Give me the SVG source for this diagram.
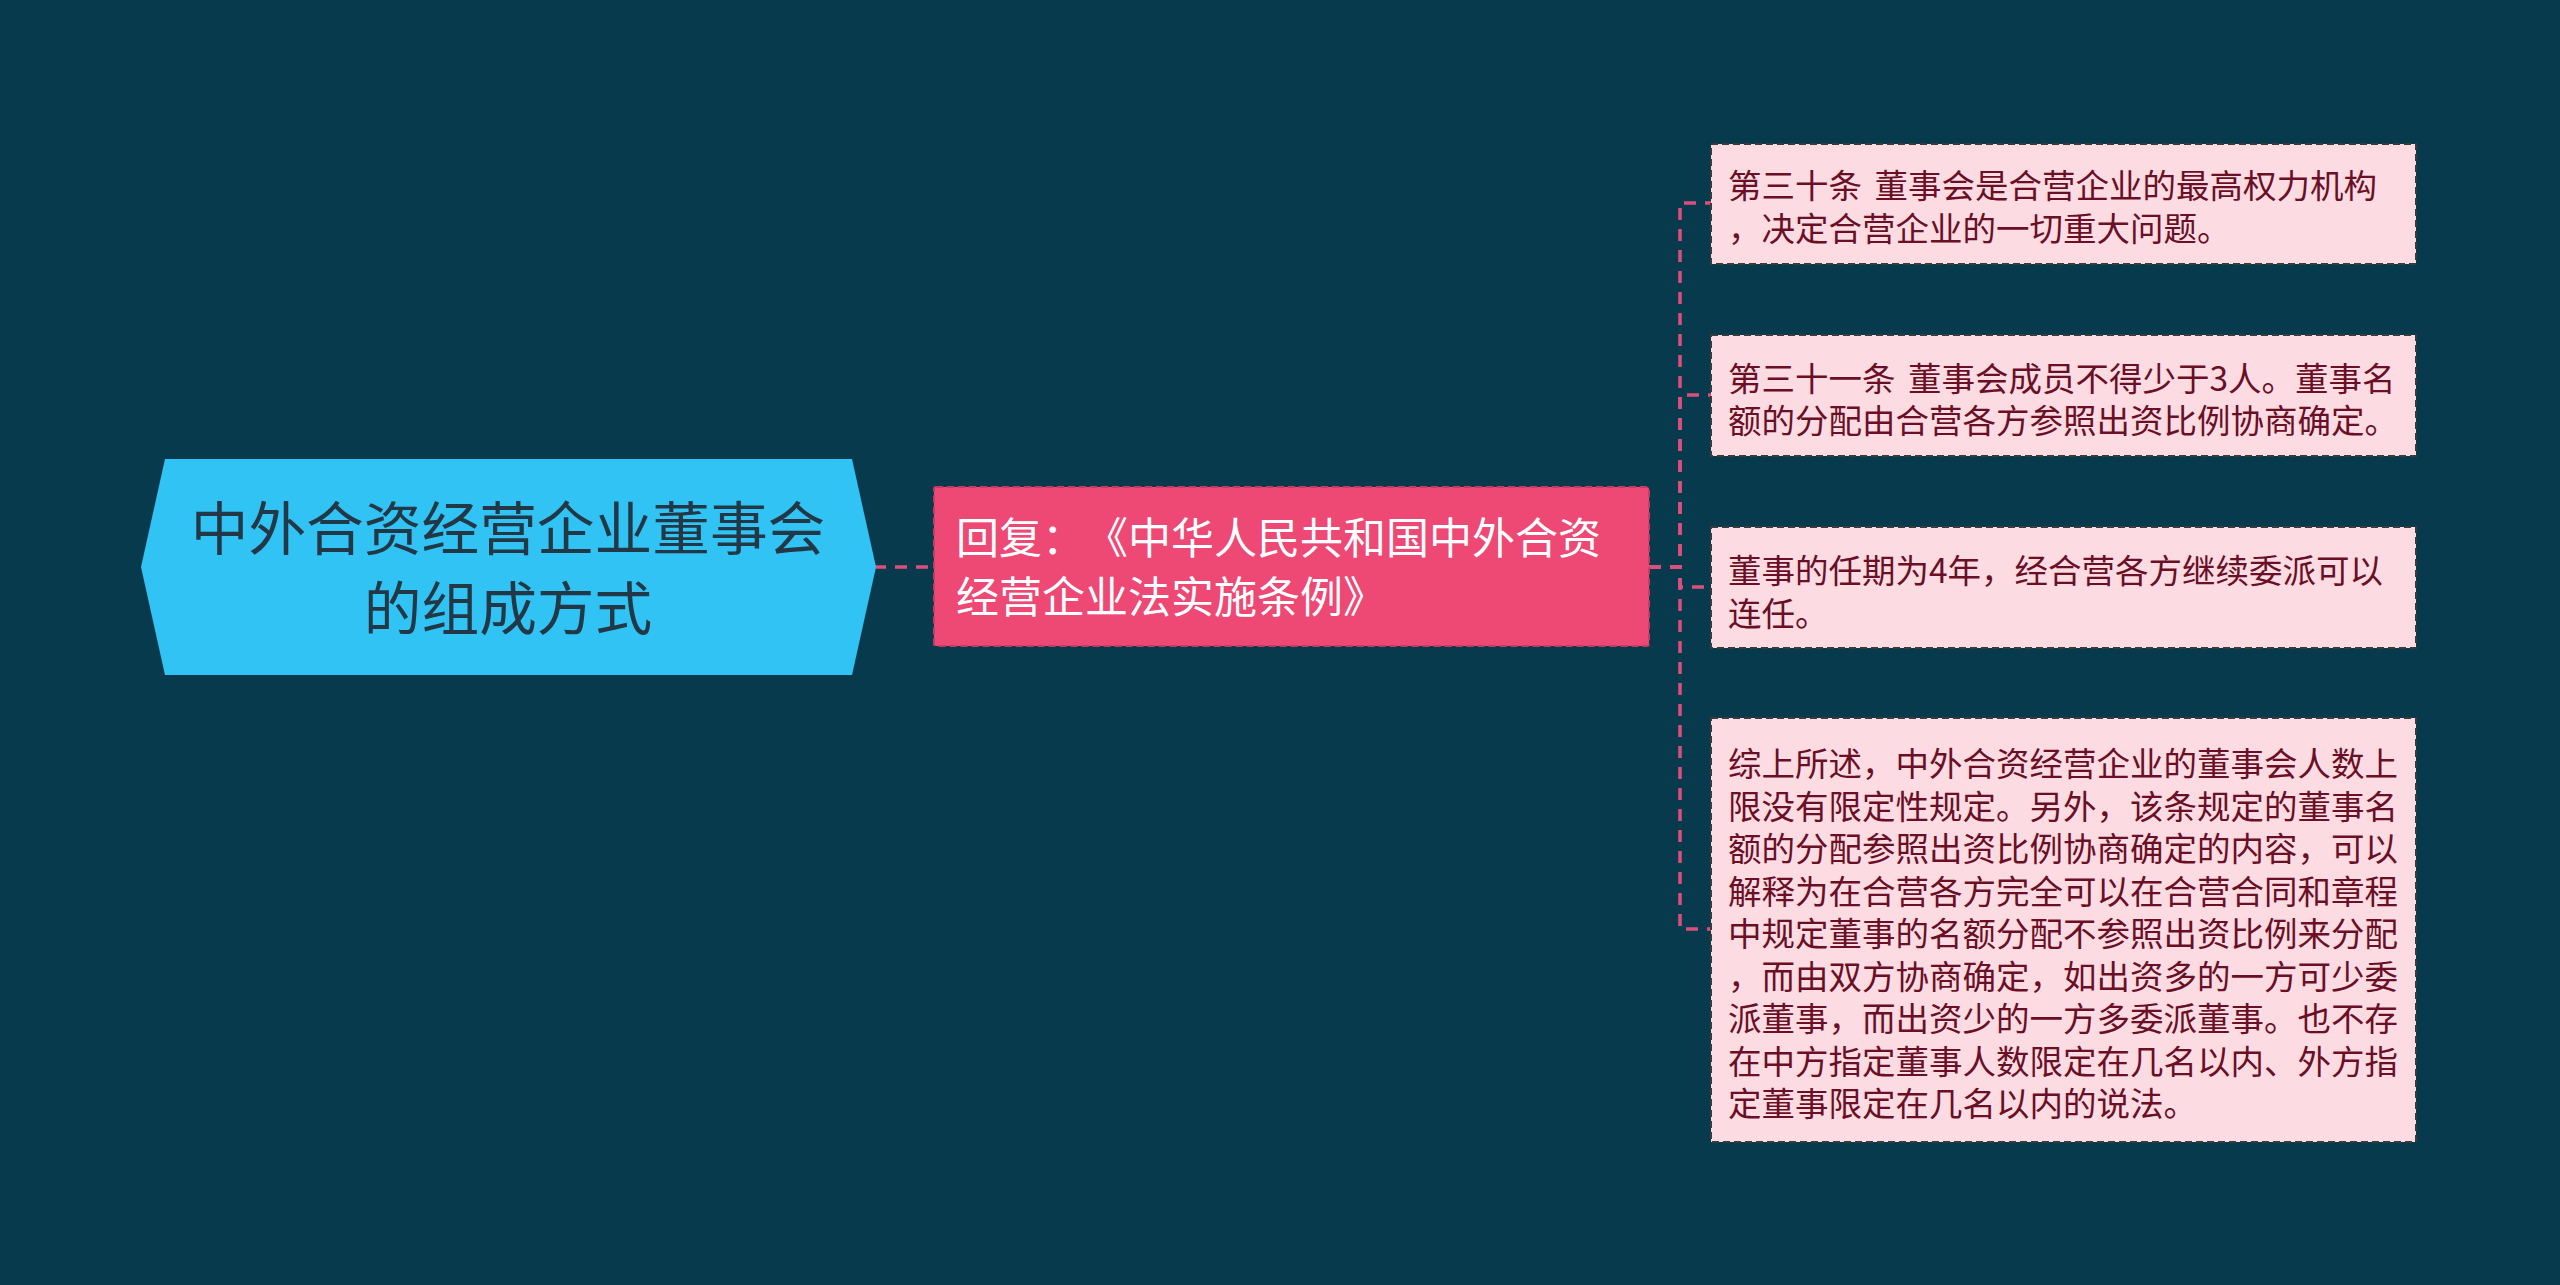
<svg xmlns="http://www.w3.org/2000/svg" width="2560" height="1285" viewBox="0 0 2560 1285">
<defs>
<style>
.cjk{font-family:"Noto Sans CJK SC","Noto Sans",sans-serif;text-spacing-trim:space-all;font-kerning:none}
.root-t{font-size:57.7px;fill:#233846;text-anchor:middle}
.main-t{font-size:43px;fill:#ffffff}
.leaf-t{font-size:33.5px;fill:#6a0f25;word-spacing:5px}
.leaf{fill:#fcdbe3;stroke:#3b3b3b;stroke-width:2;stroke-dasharray:7 4}
.conn{fill:none;stroke:#dc4f7c;stroke-width:3.5;stroke-dasharray:12 9}
</style>
</defs>
<rect x="0" y="0" width="2560" height="1285" fill="#083a4e"/>
<g id="connectors">
<path class="conn" d="M874 567 H934"/>
<path class="conn" d="M1649 567 H1680 V203 H1711"/>
<path class="conn" d="M1649 567 H1680 V395 H1711"/>
<path class="conn" d="M1649 567 H1680 V587 H1711"/>
<path class="conn" d="M1649 567 H1680 V929 H1711"/>
</g>
<g id="root">
<polygon points="141,567 165,459 852,459 876,567 852,675 165,675" fill="#30c3f4"/>
<text class="cjk root-t"><tspan x="508" y="550">中外合资经营企业董事会</tspan><tspan x="508" y="630">的组成方式</tspan></text>
</g>
<g id="main">
<rect x="934" y="487" width="715" height="159" rx="2" fill="#ee4874" stroke="#c93a62" stroke-width="2" stroke-dasharray="7 4"/>
<text class="cjk main-t"><tspan x="956" y="554">回复：《中华人民共和国中外合资</tspan><tspan x="956" y="613">经营企业法实施条例》</tspan></text>
</g>
<g id="leaf1">
<rect class="leaf" x="1711" y="144" width="705" height="120"/>
<text class="cjk leaf-t"><tspan x="1728" y="198">第三十条 董事会是合营企业的最高权力机构</tspan><tspan x="1728" y="241">，决定合营企业的一切重大问题。</tspan></text>
</g>
<g id="leaf2">
<rect class="leaf" x="1711" y="335" width="705" height="121"/>
<text class="cjk leaf-t"><tspan x="1728" y="391">第三十一条 董事会成员不得少于3人。董事名</tspan><tspan x="1728" y="433">额的分配由合营各方参照出资比例协商确定。</tspan></text>
</g>
<g id="leaf3">
<rect class="leaf" x="1711" y="527" width="705" height="121"/>
<text class="cjk leaf-t"><tspan x="1728" y="583">董事的任期为4年，经合营各方继续委派可以</tspan><tspan x="1728" y="626">连任。</tspan></text>
</g>
<g id="leaf4">
<rect class="leaf" x="1711" y="718" width="705" height="424"/>
<text class="cjk leaf-t">
<tspan x="1728" y="776">综上所述，中外合资经营企业的董事会人数上</tspan>
<tspan x="1728" y="818.5">限没有限定性规定。另外，该条规定的董事名</tspan>
<tspan x="1728" y="861">额的分配参照出资比例协商确定的内容，可以</tspan>
<tspan x="1728" y="903.5">解释为在合营各方完全可以在合营合同和章程</tspan>
<tspan x="1728" y="946">中规定董事的名额分配不参照出资比例来分配</tspan>
<tspan x="1728" y="988.5">，而由双方协商确定，如出资多的一方可少委</tspan>
<tspan x="1728" y="1031">派董事，而出资少的一方多委派董事。也不存</tspan>
<tspan x="1728" y="1073.5">在中方指定董事人数限定在几名以内、外方指</tspan>
<tspan x="1728" y="1116">定董事限定在几名以内的说法。</tspan>
</text>
</g>
</svg>
